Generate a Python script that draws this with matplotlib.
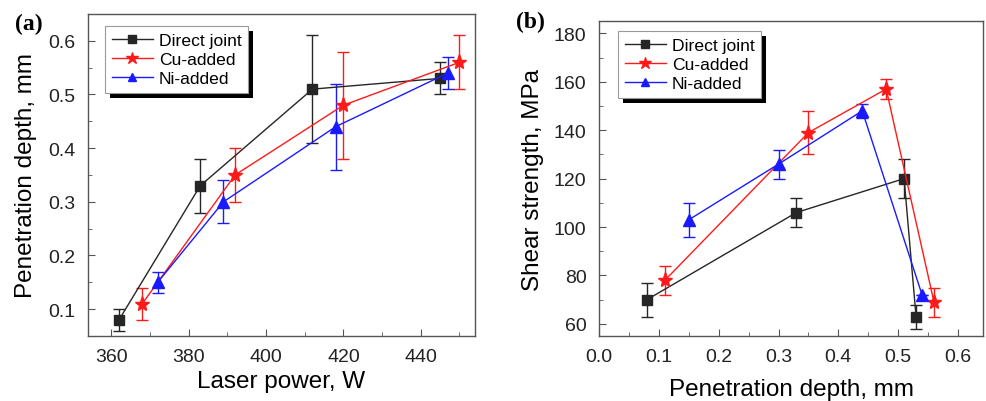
import matplotlib
matplotlib.use("Agg")
import matplotlib.pyplot as plt
from matplotlib.patches import Rectangle
from matplotlib.transforms import IdentityTransform
from matplotlib.ticker import MultipleLocator

plt.rcParams['font.family'] = ['Liberation Sans', 'DejaVu Sans']

series_names = ["Direct joint", "Cu-added", "Ni-added"]

# (a) penetration depth vs laser power
power_direct = [362, 383, 412, 445]
depth_direct = [0.08, 0.33, 0.51, 0.53]
depth_direct_err = [0.02, 0.05, 0.10, 0.03]
power_cu = [368, 392, 420, 450]
depth_cu = [0.11, 0.35, 0.48, 0.56]
depth_cu_err = [0.03, 0.05, 0.10, 0.05]
power_ni = [372, 389, 418, 447]
depth_ni = [0.15, 0.30, 0.44, 0.54]
depth_ni_err = [0.02, 0.04, 0.08, 0.03]

# (b) shear strength vs penetration depth
pd_direct = [0.08, 0.33, 0.51, 0.53]
shear_direct = [70, 106, 120, 63]
shear_direct_err = [7, 6, 8, 5]
pd_cu = [0.11, 0.35, 0.48, 0.56]
shear_cu = [78, 139, 157, 69]
shear_cu_err = [6, 9, 4, 6]
pd_ni = [0.15, 0.30, 0.44, 0.54]
shear_ni = [103, 126, 148, 72]
shear_ni_err = [7, 6, 3, 0]

colors = ['#262626', '#ff1a1a', '#1a1aff']
markers = ['s', '*', '^']
msizes = [7, 11, 8]

fig = plt.figure(figsize=(9.87, 4.02), dpi=100)
ax_a = fig.add_axes([0.0892, 0.1617, 0.392, 0.801])
ax_b = fig.add_axes([0.607, 0.1617, 0.389, 0.783])


def draw(ax, xs, ys, errs, anchor):
    handles = []
    for i in range(3):
        cont = ax.errorbar(xs[i], ys[i], yerr=errs[i], color=colors[i], marker=markers[i],
                           markersize=msizes[i], linewidth=1.0, elinewidth=1.0, capsize=4,
                           capthick=1.0, label=series_names[i])
        handles.append(cont[0])
    leg = ax.legend(handles, series_names, loc='upper left', bbox_to_anchor=anchor,
                    fontsize=12.6, frameon=True, fancybox=False, markerscale=0.8,
                    handlelength=2.35, borderpad=0.38, labelspacing=0.22, handletextpad=0.35,
                    borderaxespad=0.0)
    leg.get_frame().set_edgecolor('#9a9a9a')
    leg.get_frame().set_linewidth(0.8)
    leg.get_frame().set_alpha(1.0)
    for s in ax.spines.values():
        s.set_color('#555555')
        s.set_linewidth(1.0)
    ax.tick_params(which='both', direction='in', top=False, right=False,
                   labelsize=14, colors='#555555', labelcolor='#222222')
    ax.tick_params(which='major', length=5, pad=9)
    ax.tick_params(which='minor', length=3)
    return leg


leg_a = draw(ax_a, [power_direct, power_cu, power_ni], [depth_direct, depth_cu, depth_ni],
             [depth_direct_err, depth_cu_err, depth_ni_err], (0.044, 0.963))
ax_a.set_xlim(354, 454)
ax_a.set_ylim(0.05, 0.65)
ax_a.xaxis.set_major_locator(MultipleLocator(20))
ax_a.xaxis.set_minor_locator(MultipleLocator(10))
ax_a.yaxis.set_major_locator(MultipleLocator(0.1))
ax_a.yaxis.set_minor_locator(MultipleLocator(0.05))
ax_a.set_xlabel("Laser power, W", fontsize=17.5, labelpad=3)
ax_a.set_ylabel("Penetration depth, mm", fontsize=17.5, labelpad=8)

leg_b = draw(ax_b, [pd_direct, pd_cu, pd_ni], [shear_direct, shear_cu, shear_ni],
             [shear_direct_err, shear_cu_err, shear_ni_err], (0.049, 0.968))
ax_b.set_xlim(0.0, 0.642)
ax_b.set_ylim(55, 185)
ax_b.xaxis.set_major_locator(MultipleLocator(0.1))
ax_b.xaxis.set_minor_locator(MultipleLocator(0.05))
ax_b.yaxis.set_major_locator(MultipleLocator(20))
ax_b.yaxis.set_minor_locator(MultipleLocator(10))
ax_b.set_xlabel("Penetration depth, mm", fontsize=17.5, labelpad=9)
ax_b.set_ylabel("Shear strength, MPa", fontsize=17.5, labelpad=7)

fig.text(0.015, 0.938, "(a)", fontsize=17, fontweight='bold', family='Liberation Serif',
         va='center')
fig.text(0.523, 0.945, "(b)", fontsize=17, fontweight='bold', family='Liberation Serif',
         va='center')

# black drop shadow behind each legend box
fig.canvas.draw()
for ax, leg in [(ax_a, leg_a), (ax_b, leg_b)]:
    bb = leg.get_window_extent()
    ax.add_artist(Rectangle((bb.x0 + 5, bb.y0 - 5), bb.width, bb.height,
                            transform=IdentityTransform(), facecolor='black',
                            edgecolor='none', zorder=4.9, clip_on=False))

fig.savefig("out.png", dpi=100)
